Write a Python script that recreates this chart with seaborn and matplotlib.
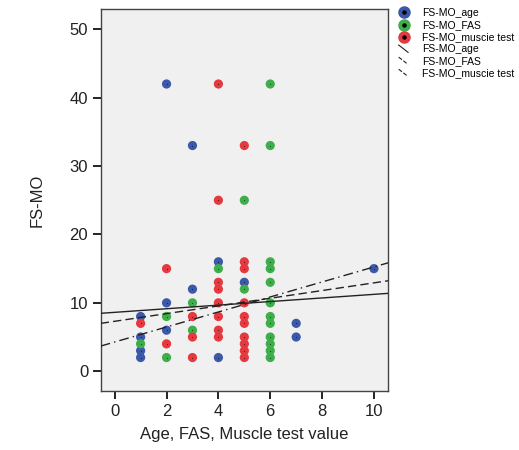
import numpy as np
import pandas as pd
import seaborn as sns
import matplotlib
matplotlib.use("Agg")
import matplotlib.pyplot as plt
from matplotlib.lines import Line2D
from matplotlib.legend_handler import HandlerBase, HandlerTuple

# FS-MO against age
age_x = [1, 1, 1, 1, 2, 2, 2, 3, 3, 4, 4, 5, 7, 7, 10]
age_y = [8, 5, 3, 2, 42, 10, 6, 33, 12, 16, 2, 13, 7, 5, 15]

# FS-MO against FAS
fas_x = [1, 2, 2, 3, 3, 4, 5, 5, 6, 6, 6, 6, 6, 6, 6, 6, 6, 6, 6, 6]
fas_y = [4, 8, 2, 10, 6, 15, 25, 12, 42, 33, 16, 15, 13, 10, 8, 7, 5, 4, 3, 2]

# FS-MO against muscle test
mus_x = [1, 2, 2, 3, 3, 3, 4, 4, 4, 4, 4, 4, 4, 4, 5, 5, 5, 5, 5, 5, 5, 5, 5, 5]
mus_y = [7, 15, 4, 8, 5, 2, 42, 25, 13, 12, 10, 8, 6, 5, 33, 16, 15, 10, 8, 7, 5, 4, 3, 2]

series_names = ["FS-MO_age", "FS-MO_FAS", "FS-MO_muscie test"]
series_colors = ["#3c58a8", "#3eae4a", "#e5383f"]

# linear fit lines (intercept, slope) for each series
fit_intercepts = [8.61, 7.30, 4.27]
fit_slopes = [0.263, 0.562, 1.098]
fit_styles = ["-", (0, (6, 3)), (0, (7, 3, 1, 3))]

frames = []
for name, xs, ys in zip(series_names, [age_x, fas_x, mus_x], [age_y, fas_y, mus_y]):
    frames.append(pd.DataFrame({"x": xs, "y": ys, "series": name}))
df = pd.concat(frames, ignore_index=True)

plt.rcParams["font.family"] = ["Liberation Sans", "DejaVu Sans"]

fig = plt.figure(figsize=(5.19, 4.5), dpi=100)
ax = fig.add_axes([0.194, 0.131, 0.554, 0.848])
ax.set_facecolor("#f0f0f0")

sns.scatterplot(data=df, x="x", y="y", hue="series", hue_order=series_names,
                palette=series_colors, s=44, edgecolor="none", linewidth=0,
                legend=False, ax=ax, zorder=3)
ax.scatter(df["x"], df["y"], s=0.25, color="black", linewidths=0, zorder=4)

xlim = (-0.54, 10.55)
ax.set_xlim(*xlim)
ax.set_ylim(-2.9, 52.9)
xx = np.array(xlim)
for b0, b1, ls in zip(fit_intercepts, fit_slopes, fit_styles):
    ax.plot(xx, b0 + b1 * xx, color="#222222", lw=1.0, linestyle=ls, zorder=5)

ax.set_xticks([0, 2, 4, 6, 8, 10])
ax.set_yticks([0, 10, 20, 30, 40, 50])
ax.tick_params(axis="both", labelsize=12, length=6, width=1.4, color="#222222",
               direction="out", pad=3, labelcolor="#222222")
for sp in ax.spines.values():
    sp.set_color("#444444")
    sp.set_linewidth(1.0)
ax.set_xlabel("Age, FAS, Muscle test value", fontsize=12, color="#222222", labelpad=6)
ax.set_ylabel("FS-MO", fontsize=12, color="#222222", labelpad=18)


class DiagonalHandler(HandlerBase):
    def create_artists(self, legend, orig_handle, xdescent, ydescent,
                       width, height, fontsize, trans):
        line = Line2D([0.05 * width, 0.8 * width], [height * 1.0, 0.0],
                      color="#222222", lw=0.8, linestyle=orig_handle.get_linestyle())
        line.set_transform(trans)
        return [line]


handles = []
for c in series_colors:
    big = Line2D([], [], marker="o", color=c, markersize=8, linestyle="none")
    dot = Line2D([], [], marker="o", color="black", markersize=2.2, linestyle="none")
    handles.append((big, dot))
for ls in fit_styles:
    handles.append(Line2D([], [], color="#222222", linestyle=ls, lw=0.8))
labels = series_names + series_names

handler_map = {tuple: HandlerTuple(ndivide=1, pad=0)}
for h in handles[3:]:
    handler_map[h] = DiagonalHandler()

fig.legend(handles, labels, handler_map=handler_map, loc="upper left",
           bbox_to_anchor=(0.767, 0.982), frameon=False, fontsize=7.5,
           handlelength=1.2, handletextpad=1.1, labelspacing=0.2,
           borderaxespad=0, borderpad=0)

fig.savefig("out.png", dpi=100)
